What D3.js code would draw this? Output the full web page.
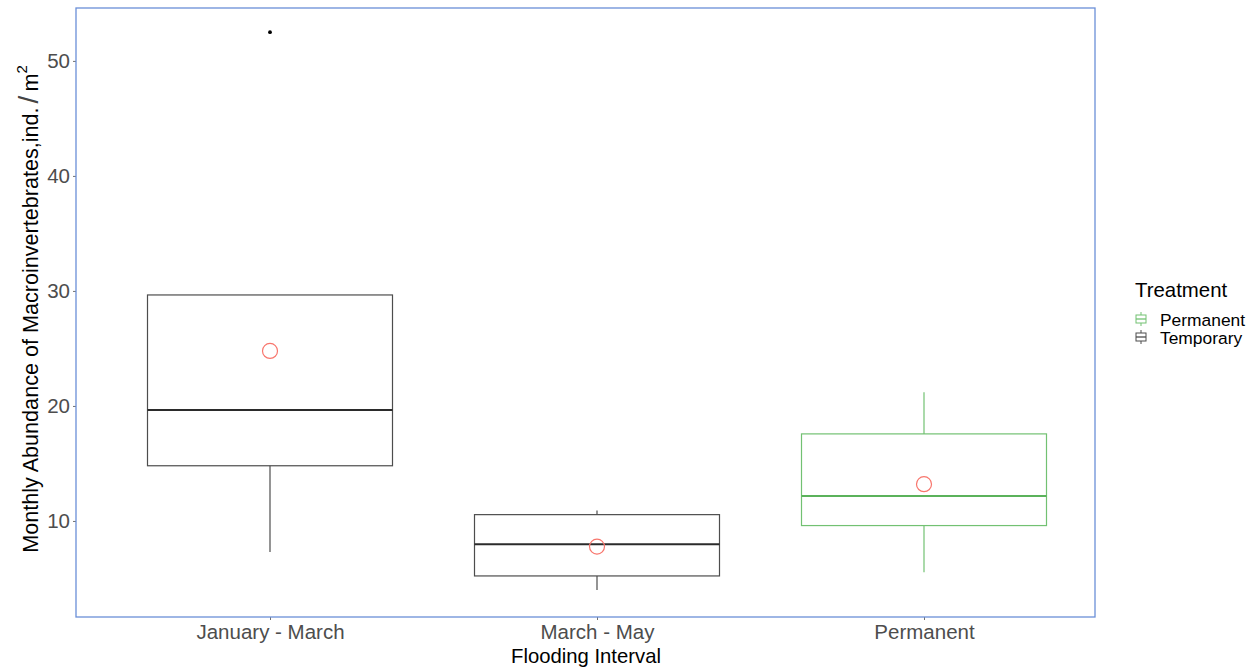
<!DOCTYPE html>
<html>
<head>
<meta charset="utf-8">
<script src="https://cdn.jsdelivr.net/npm/d3@7"></script>
<style>
  html, body { margin: 0; padding: 0; background: #ffffff; }
  svg { display: block; font-family: "Liberation Sans", Arial, sans-serif; }
</style>
</head>
<body>
<svg id="chart" width="1256" height="669"></svg>
<script>
// Flooding intervals and the treatment each belongs to
const categories = ["January - March", "March - May", "Permanent"];
const treatment = ["Temporary", "Temporary", "Permanent"];

// Box summary statistics (ind./m²)
const whiskerLow = [7.3, 4.0, 5.55];
const q1 = [14.8, 5.22, 9.6];
const median = [19.65, 7.97, 12.17];
const q3 = [29.65, 10.55, 17.57];
const whiskerHigh = [29.65, 10.9, 21.2];
const means = [24.78, 7.77, 13.2];

// Points beyond the whiskers
const outlierCategory = ["January - March"];
const outlierValue = [52.5];

const yTicks = [10, 20, 30, 40, 50];
const legendLevels = ["Permanent", "Temporary"];

const colour = d3.scaleOrdinal()
  .domain(["Permanent", "Temporary"])
  .range(["#72c172", "#4d4d4d"]);
const medianColour = d3.scaleOrdinal()
  .domain(["Permanent", "Temporary"])
  .range(["#5bb25b", "#2b2b2b"]);

const svg = d3.select("#chart");

const panel = { left: 76, right: 1095, top: 8, bottom: 617 };

const x = d3.scalePoint()
  .domain(categories)
  .range([270, 924]);
const boxWidth = 245;

const y = d3.scaleLinear()
  .domain([1.65, 54.6])
  .range([panel.bottom, panel.top]);

// Axes
const yAxis = svg.append("g")
  .attr("transform", `translate(${panel.left},0)`)
  .call(d3.axisLeft(y).tickValues(yTicks).tickSize(3).tickPadding(3));
yAxis.select(".domain").remove();
yAxis.selectAll(".tick line").attr("stroke", "#4d4d4d").attr("stroke-width", 0.8);
yAxis.selectAll(".tick text")
  .attr("fill", "#4d4d4d")
  .style("font-size", "20.5px")
  .style("font-family", "Liberation Sans, Arial, sans-serif");

const xAxis = svg.append("g")
  .attr("transform", `translate(0,${panel.bottom})`)
  .call(d3.axisBottom(x).tickSize(3).tickPadding(4));
xAxis.select(".domain").remove();
xAxis.selectAll(".tick line").attr("stroke", "#4d4d4d").attr("stroke-width", 0.8);
xAxis.selectAll(".tick text")
  .attr("fill", "#4d4d4d")
  .style("font-size", "20.5px")
  .style("font-family", "Liberation Sans, Arial, sans-serif");

// Boxplots
const rows = categories.map((c, i) => ({
  cat: c, grp: treatment[i], lo: whiskerLow[i], q1: q1[i], med: median[i],
  q3: q3[i], hi: whiskerHigh[i], mean: means[i]
}));

const boxes = svg.append("g").selectAll("g").data(rows).join("g");

boxes.append("line")
  .attr("x1", d => x(d.cat)).attr("x2", d => x(d.cat))
  .attr("y1", d => y(d.lo)).attr("y2", d => y(d.q1))
  .attr("stroke", d => colour(d.grp)).attr("stroke-width", 1.2);
boxes.append("line")
  .attr("x1", d => x(d.cat)).attr("x2", d => x(d.cat))
  .attr("y1", d => y(d.q3)).attr("y2", d => y(d.hi))
  .attr("stroke", d => colour(d.grp)).attr("stroke-width", 1.2);
boxes.append("rect")
  .attr("x", d => x(d.cat) - boxWidth / 2)
  .attr("width", boxWidth)
  .attr("y", d => y(d.q3))
  .attr("height", d => y(d.q1) - y(d.q3))
  .attr("fill", "none")
  .attr("stroke", d => colour(d.grp)).attr("stroke-width", 1.2);
boxes.append("line")
  .attr("x1", d => x(d.cat) - boxWidth / 2).attr("x2", d => x(d.cat) + boxWidth / 2)
  .attr("y1", d => y(d.med)).attr("y2", d => y(d.med))
  .attr("stroke", d => medianColour(d.grp))
  .attr("stroke-width", 2);

// Outliers
svg.append("g").selectAll("circle")
  .data(outlierValue.map((v, i) => ({ cat: outlierCategory[i], v })))
  .join("circle")
  .attr("cx", d => x(d.cat)).attr("cy", d => y(d.v))
  .attr("r", 1.9).attr("fill", "#000");

// Means
svg.append("g").selectAll("circle")
  .data(rows)
  .join("circle")
  .attr("cx", d => x(d.cat)).attr("cy", d => y(d.mean))
  .attr("r", 7.5)
  .attr("fill", "none")
  .attr("stroke", "#f8766d").attr("stroke-width", 1.2);

// Panel border
svg.append("rect")
  .attr("x", panel.left).attr("y", panel.top)
  .attr("width", panel.right - panel.left)
  .attr("height", panel.bottom - panel.top)
  .attr("fill", "none")
  .attr("stroke", "#6a8fd8").attr("stroke-width", 1.3);

// Axis titles
svg.append("text")
  .attr("x", (panel.left + panel.right) / 2 + 0.5)
  .attr("y", 663)
  .attr("text-anchor", "middle")
  .style("font-size", "20.3px")
  .attr("fill", "#000")
  .text("Flooding Interval");

const yTitle = svg.append("text")
  .attr("transform", "translate(38,309) rotate(-90)")
  .attr("text-anchor", "middle")
  .style("font-size", "21.6px")
  .attr("fill", "#000");
yTitle.append("tspan").text("Monthly Abundance of Macroinvertebrates,ind.");
yTitle.append("tspan").attr("dx", 4).style("font-size", "28px").attr("fill", "#444").text("/");
yTitle.append("tspan").attr("dx", 4).text("m");
yTitle.append("tspan").attr("dy", -11).style("font-size", "15px").text("2");

// Legend
const legend = svg.append("g").attr("transform", "translate(1135,0)");
legend.append("text")
  .attr("x", 0).attr("y", 297)
  .style("font-size", "20.4px")
  .attr("fill", "#000")
  .text("Treatment");

const keys = legend.selectAll("g.key")
  .data(legendLevels)
  .join("g")
  .attr("class", "key")
  .attr("transform", (d, i) => `translate(0,${319 + i * 18})`);

keys.append("line")
  .attr("x1", 6).attr("x2", 6).attr("y1", -7).attr("y2", 7)
  .attr("stroke", d => colour(d)).attr("stroke-width", 1);
keys.append("rect")
  .attr("x", 1).attr("y", -4).attr("width", 10).attr("height", 8)
  .attr("fill", "#fff")
  .attr("stroke", d => colour(d)).attr("stroke-width", 1);
keys.append("line")
  .attr("x1", 1).attr("x2", 11).attr("y1", 0).attr("y2", 0)
  .attr("stroke", d => colour(d)).attr("stroke-width", 1.3);
keys.append("text")
  .attr("x", 25).attr("y", 6.5)
  .style("font-size", "17.4px")
  .attr("fill", "#000")
  .text(d => d);
</script>
</body>
</html>
